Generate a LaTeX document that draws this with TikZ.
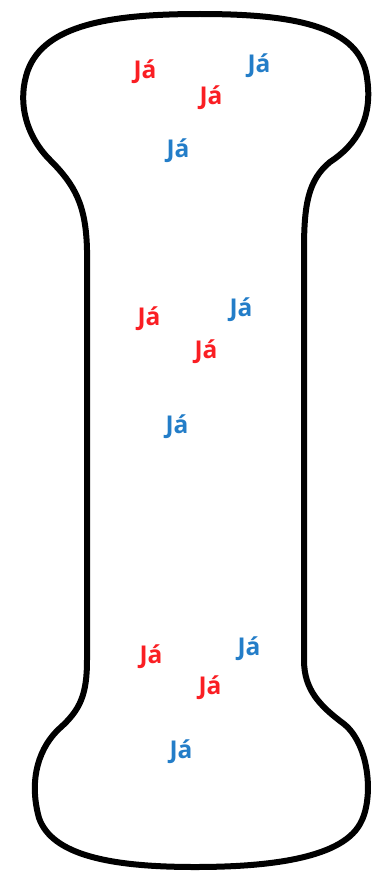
\documentclass[tikz,border=0pt]{standalone}
\usepackage{fontspec}
\setmainfont{Open Sans}
\definecolor{jred}{RGB}{250,30,35}
\definecolor{jblue}{RGB}{35,125,200}
\tikzset{
  ja/.style={font=\fontsize{24.5}{28}\selectfont\bfseries, inner sep=0pt, anchor=center},
  jr/.style={ja, text=jred},
  jb/.style={ja, text=jblue},
  bone/.style={line width=6pt, black, line join=round}
}
\begin{document}
\begin{tikzpicture}[x=1pt,y=-1pt]
\useasboundingbox (0,0) rectangle (372,875);
\draw[bone] (87,250)
  .. controls (86,205) and (75,185) .. (50,160)
  .. controls (25,135) and (17,100) .. (28,70)
  .. controls (45,25) and (110,14) .. (200,14)
  .. controls (290,14) and (355,25) .. (366,72)
  .. controls (375,118) and (356,145) .. (330,162)
  .. controls (308,180) and (304,205) .. (304,250)
  -- (304,660)
  .. controls (304,690) and (320,706) .. (344,724)
  .. controls (370,745) and (374,800) .. (360,824)
  .. controls (340,860) and (262,867) .. (195,867)
  .. controls (110,867) and (52,855) .. (39,818)
  .. controls (28,778) and (40,746) .. (60,728)
  .. controls (80,710) and (87,695) .. (87,660)
  -- cycle;
\node[jr] (r1) at (145,72) {Já};
\node[jb] (b1) at (259,66) {Já};
\node[jr] (r2) at (211,98) {Já};
\node[jb] (b2) at (178,151) {Já};
\node[jr] (r3) at (149,319) {Já};
\node[jb] (b3) at (241,310) {Já};
\node[jr] (r4) at (206,352) {Já};
\node[jb] (b4) at (177,427) {Já};
\node[jr] (r5) at (151,657) {Já};
\node[jb] (b5) at (249,649) {Já};
\node[jr] (r6) at (210,688) {Já};
\node[jb] (b6) at (181,752) {Já};
\end{tikzpicture}
\end{document}
